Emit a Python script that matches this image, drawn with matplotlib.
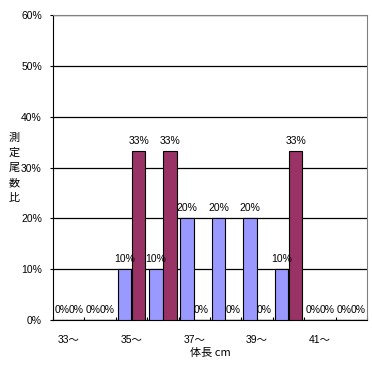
import numpy as np
import matplotlib
matplotlib.use("Agg")
import matplotlib.pyplot as plt

plt.rcParams['font.family'] = ['Liberation Sans', 'Noto Sans CJK JP', 'DejaVu Sans']

# data (percent)
sizes = ["33〜", "34〜", "35〜", "36〜", "37〜", "38〜", "39〜", "40〜", "41〜", "42〜"]
series_a = [0, 0, 10, 10, 20, 20, 20, 10, 0, 0]
series_b = [0, 0, 33.3, 33.3, 0, 0, 0, 33.3, 0, 0]
yticks = [0, 10, 20, 30, 40, 50, 60]
ylabel = "測定尾数比"

fig = plt.figure(figsize=(3.72, 3.65), dpi=100)
ax = fig.add_axes([53 / 372, 45 / 365, 314 / 372, 305 / 365])

x = np.arange(len(sizes))
w = 0.43
off = 0.225
bars_a = ax.bar(x - off, series_a, w, color="#9999FF", edgecolor="black", linewidth=0.8, zorder=3)
bars_b = ax.bar(x + off, series_b, w, color="#993366", edgecolor="black", linewidth=0.8, zorder=3)

for bars, vals in ((bars_a, series_a), (bars_b, series_b)):
    for b, v in zip(bars, vals):
        ax.annotate(f"{v:.0f}%", (b.get_x() + b.get_width() / 2, v),
                    xytext=(0, 3.5), textcoords="offset points",
                    ha="center", va="bottom", fontsize=7.5, zorder=4)

ax.set_xlim(-0.5, len(sizes) - 0.5)
ax.set_ylim(0, 60)
ax.set_yticks(yticks)
ax.set_yticklabels([f"{t}%" for t in yticks], fontsize=7.5)
ax.yaxis.grid(True, color="black", linewidth=0.9, zorder=0)

# category labels every other bin, tick marks at bin boundaries
ax.set_xticks(x[::2])
ax.set_xticklabels(sizes[::2], fontsize=7.5)
ax.tick_params(axis="x", length=0, pad=11)
ax.set_xticks(np.arange(len(sizes) + 1) - 0.5, minor=True)
ax.tick_params(axis="x", which="minor", direction="in", length=2.5, width=0.8)
ax.tick_params(axis="y", length=2, width=0.8, pad=6)

for s in ("top", "right"):
    ax.spines[s].set_color("#808080")
for s in ("left", "bottom"):
    ax.spines[s].set_color("black")

ax.set_xlabel("体長 cm", fontsize=8, labelpad=2, family=['Noto Sans CJK JP', 'DejaVu Sans'])

# vertical (stacked) axis title, one character per line
for i, ch in enumerate(ylabel):
    fig.text(14 / 372, 1 - (138 + i * 15) / 365, ch, ha="center", va="center",
             fontsize=8, family=['Noto Sans CJK JP', 'DejaVu Sans'])

fig.savefig("out.png", dpi=100)
